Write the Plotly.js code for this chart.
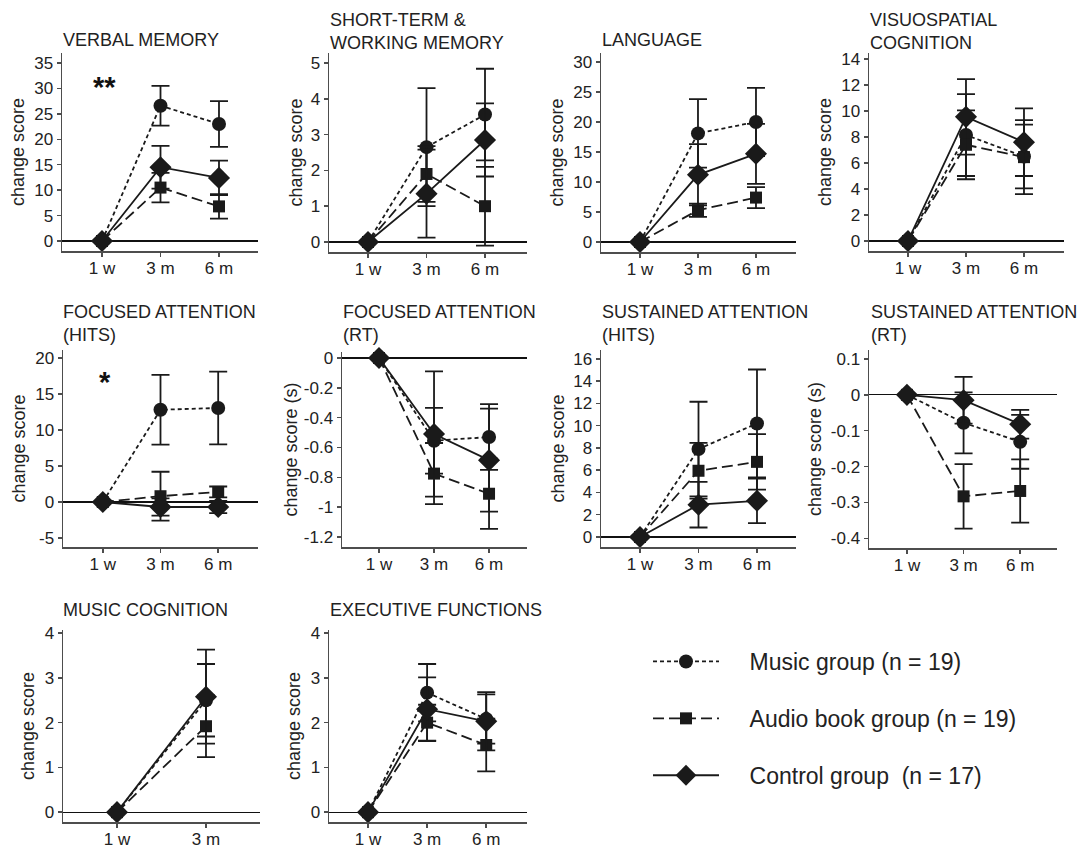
<!DOCTYPE html>
<html><head><meta charset="utf-8">
<script src="https://cdn.plot.ly/plotly-3.0.1.min.js"></script>
<style>html,body{margin:0;padding:0;background:#fff}</style>
</head><body><div id="chart" style="width:1087px;height:848px"></div>
<script>
// ---------- DATA ----------
const timepoints3 = ['1 w', '3 m', '6 m'];
const timepoints2 = ['1 w', '3 m'];
const groupNames = ['Music group (n = 19)', 'Audio book group (n = 19)', 'Control group\u00a0 (n = 17)'];

const panelTitles = [
  'VERBAL MEMORY', 'SHORT-TERM &<br>WORKING MEMORY', 'LANGUAGE', 'VISUOSPATIAL<br>COGNITION',
  'FOCUSED ATTENTION<br>(HITS)', 'FOCUSED ATTENTION<br>(RT)', 'SUSTAINED ATTENTION<br>(HITS)', 'SUSTAINED ATTENTION<br>(RT)',
  'MUSIC COGNITION', 'EXECUTIVE FUNCTIONS'
];
const yTitles = ['change score', 'change score', 'change score', 'change score',
  'change score', 'change score (s)', 'change score', 'change score (s)',
  'change score', 'change score'];

// y tick values per panel
const yTicks1 = [0, 5, 10, 15, 20, 25, 30, 35];
const yTicks2 = [0, 1, 2, 3, 4, 5];
const yTicks3 = [0, 5, 10, 15, 20, 25, 30];
const yTicks4 = [0, 2, 4, 6, 8, 10, 12, 14];
const yTicks5 = [-5, 0, 5, 10, 15, 20];
const yTicks6 = [-1.2, -1, -0.8, -0.6, -0.4, -0.2, 0];
const yTicks7 = [0, 2, 4, 6, 8, 10, 12, 14, 16];
const yTicks8 = [-0.4, -0.3, -0.2, -0.1, 0, 0.1];
const yTicks9 = [0, 1, 2, 3, 4];
const yTicks10 = [0, 1, 2, 3, 4];

// means and error (null = no bar at baseline)
const verbalMusic = [0, 26.6, 23.0],   verbalMusicErr = [null, 3.9, 4.5];
const verbalAudio = [0, 10.5, 6.8],    verbalAudioErr = [null, 2.9, 2.4];
const verbalControl = [0, 14.5, 12.4], verbalControlErr = [null, 4.2, 3.4];

const stmMusic = [0, 2.65, 3.56],   stmMusicErr = [null, 1.65, 1.28];
const stmAudio = [0, 1.9, 1.0],     stmAudioErr = [null, 0.78, 1.1];
const stmControl = [0, 1.35, 2.85], stmControlErr = [null, 1.23, 1.02];

const langMusic = [0, 18.1, 20.0],   langMusicErr = [null, 5.7, 5.7];
const langAudio = [0, 5.3, 7.4],     langAudioErr = [null, 1.1, 1.75];
const langControl = [0, 11.2, 14.7], langControlErr = [null, 5.1, 5.0];

const visuoMusic = [0, 8.15, 6.5],    visuoMusicErr = [null, 3.15, 2.45];
const visuoAudio = [0, 7.4, 6.45],    visuoAudioErr = [null, 2.65, 2.85];
const visuoControl = [0, 9.55, 7.6],  visuoControlErr = [null, 2.9, 2.6];

const faHitsMusic = [0, 12.8, 13.05], faHitsMusicErr = [null, 4.85, 5.05];
const faHitsAudio = [0, 0.8, 1.4],    faHitsAudioErr = [null, 3.4, 0.75];
const faHitsControl = [0, -0.7, -0.7], faHitsControlErr = [null, 1.2, 0.85];

const faRtMusic = [0, -0.555, -0.53],  faRtMusicErr = [null, 0.22, 0.22];
const faRtAudio = [0, -0.775, -0.91],  faRtAudioErr = [null, 0.205, 0.235];
const faRtControl = [0, -0.51, -0.685], faRtControlErr = [null, 0.42, 0.345];

const saHitsMusic = [0, 7.9, 10.2],    saHitsMusicErr = [null, 4.25, 4.85];
const saHitsAudio = [0, 5.95, 6.75],   saHitsAudioErr = [null, 2.5, 2.5];
const saHitsControl = [0, 2.9, 3.25],  saHitsControlErr = [null, 2.05, 2.0];

const saRtMusic = [0, -0.078, -0.131],   saRtMusicErr = [null, 0.085, 0.075];
const saRtAudio = [0, -0.283, -0.268],   saRtAudioErr = [null, 0.09, 0.088];
const saRtControl = [0, -0.015, -0.082], saRtControlErr = [null, 0.065, 0.04];

const musicCogMusic = [0, 2.5],   musicCogMusicErr = [null, 0.81];
const musicCogAudio = [0, 1.92],  musicCogAudioErr = [null, 0.69];
const musicCogControl = [0, 2.58], musicCogControlErr = [null, 1.05];

const execMusic = [0, 2.67, 2.08],   execMusicErr = [null, 0.64, 0.55];
const execAudio = [0, 2.0, 1.5],     execAudioErr = [null, 0.4, 0.59];
const execControl = [0, 2.3, 2.03],  execControlErr = [null, 0.71, 0.65];

// significance markers
const sigLabels = ['**', '*'];
const sigPanels = [0, 4];
const sigX = [0.05, 0.03];
const sigY = [31.3, 17.4];

// ---------- ASSEMBLY ----------
const panelData = [
  [timepoints3, yTicks1, [verbalMusic, verbalAudio, verbalControl], [verbalMusicErr, verbalAudioErr, verbalControlErr]],
  [timepoints3, yTicks2, [stmMusic, stmAudio, stmControl], [stmMusicErr, stmAudioErr, stmControlErr]],
  [timepoints3, yTicks3, [langMusic, langAudio, langControl], [langMusicErr, langAudioErr, langControlErr]],
  [timepoints3, yTicks4, [visuoMusic, visuoAudio, visuoControl], [visuoMusicErr, visuoAudioErr, visuoControlErr]],
  [timepoints3, yTicks5, [faHitsMusic, faHitsAudio, faHitsControl], [faHitsMusicErr, faHitsAudioErr, faHitsControlErr]],
  [timepoints3, yTicks6, [faRtMusic, faRtAudio, faRtControl], [faRtMusicErr, faRtAudioErr, faRtControlErr]],
  [timepoints3, yTicks7, [saHitsMusic, saHitsAudio, saHitsControl], [saHitsMusicErr, saHitsAudioErr, saHitsControlErr]],
  [timepoints3, yTicks8, [saRtMusic, saRtAudio, saRtControl], [saRtMusicErr, saRtAudioErr, saRtControlErr]],
  [timepoints2, yTicks9, [musicCogMusic, musicCogAudio, musicCogControl], [musicCogMusicErr, musicCogAudioErr, musicCogControlErr]],
  [timepoints3, yTicks10, [execMusic, execAudio, execControl], [execMusicErr, execAudioErr, execControlErr]]
];

// layout geometry (pixels) and axis ranges
const W = 1087, H = 848;
const geom = [
  {px: [62, 258],  py: [53, 251],  xr: [-0.684, 2.667], yr: [-1.97, 36.96], t: [63, 35],  so: 5},
  {px: [329, 527], py: [53, 252],  xr: [-0.667, 2.718], yr: [-0.28, 5.28],  t: [330, 15], so: 3},
  {px: [601, 796], py: [53, 252],  xr: [-0.672, 2.69],  yr: [-1.67, 31.5],  t: [602, 35], so: 5},
  {px: [869, 1064],py: [53, 251],  xr: [-0.672, 2.69],  yr: [-0.77, 14.46], t: [870, 15], so: 5},
  {px: [63, 258],  py: [350, 547], xr: [-0.69, 2.69],   yr: [-6.25, 21.1],  t: [63, 307], so: 5},
  {px: [342, 527], py: [352, 547], xr: [-0.673, 2.69],  yr: [-1.267, 0.04], t: [343, 307], so: 1},
  {px: [601, 796], py: [350, 547], xr: [-0.667, 2.667], yr: [-0.9, 16.8],   t: [602, 307], so: 4},
  {px: [869, 1057],py: [350, 548], xr: [-0.67, 2.65],   yr: [-0.427, 0.125], t: [871, 307], so: 4},
  {px: [63, 260],  py: [630, 822], xr: [-0.607, 1.607], yr: [-0.22, 4.07],  t: [63, 605], so: 5},
  {px: [329, 527], py: [630, 822], xr: [-0.66, 2.69],   yr: [-0.22, 4.07],  t: [330, 605], so: 5}
];

const FONT = 'Liberation Sans, Arial, Helvetica, sans-serif';
const INK = '#1a1a1a';
const AXC = '#4d4d4d';
const styles = [
  {symbol: 'circle', size: 14, dash: '4px,3px'},
  {symbol: 'square', size: 12, dash: '11px,5px'},
  {symbol: 'diamond', size: 17, dash: 'solid'}
];
const groupKeys = ['music', 'audio', 'control'];
const legendPad = '\u00a0\u00a0\u00a0\u00a0';

const traces = [];
const layout = {
  width: W, height: H,
  margin: {l: 0, r: 0, t: 0, b: 0},
  paper_bgcolor: '#fff', plot_bgcolor: '#fff',
  font: {family: FONT, color: '#222', size: 17},
  showlegend: true,
  legend: {
    x: 648 / W, y: 1 - 640 / H, xanchor: 'left', yanchor: 'top',
    font: {size: 23, color: '#222', family: FONT},
    itemwidth: 66, tracegroupgap: 24, traceorder: 'grouped',
    bgcolor: 'rgba(0,0,0,0)', borderwidth: 0
  },
  annotations: []
};

panelData.forEach((pd, i) => {
  const [cats, ticks, series, errs] = pd;
  const g = geom[i];
  const n = i + 1;
  const xa = 'xaxis' + (n === 1 ? '' : n);
  const ya = 'yaxis' + (n === 1 ? '' : n);
  const xr = 'x' + (n === 1 ? '' : n);
  const yr = 'y' + (n === 1 ? '' : n);
  layout[xa] = {
    domain: [g.px[0] / W, g.px[1] / W], anchor: yr, type: 'category',
    range: g.xr, showgrid: false, zeroline: false,
    showline: true, linecolor: AXC, linewidth: 1.5,
    ticks: 'outside', ticklen: 4, tickwidth: 1.5, tickcolor: AXC,
    ticklabelstandoff: -3,
    tickfont: {size: 17, color: '#222', family: FONT}, fixedrange: true
  };
  layout[ya] = {
    domain: [1 - g.py[1] / H, 1 - g.py[0] / H], anchor: xr,
    range: g.yr, showgrid: false,
    zeroline: true, zerolinecolor: '#111', zerolinewidth: 1.2,
    showline: true, linecolor: AXC, linewidth: 1.5,
    ticks: 'outside', ticklen: 4, tickwidth: 1.5, tickcolor: AXC,
    tickmode: 'array', tickvals: ticks, ticktext: ticks.map(v => String(v)),
    tickfont: {size: 17, color: '#222', family: FONT},
    title: {text: yTitles[i], standoff: g.so, font: {size: 18, color: '#222', family: FONT}},
    fixedrange: true
  };
  series.forEach((vals, k) => {
    traces.push({
      type: 'scatter', mode: 'lines+markers',
      x: cats, y: vals, xaxis: xr, yaxis: yr,
      name: legendPad + groupNames[k], legendgroup: groupKeys[k], showlegend: i === 0,
      line: {color: INK, width: 1.8, dash: styles[k].dash},
      marker: {symbol: styles[k].symbol, size: styles[k].size, color: INK},
      error_y: {type: 'data', symmetric: true, visible: true,
        array: errs[k].map(v => v === null ? NaN : v),
        color: INK, thickness: 1.8, width: 9},
      cliponaxis: false, hoverinfo: 'skip'
    });
  });
  layout.annotations.push({
    xref: 'paper', yref: 'paper', x: (g.t[0] - 2) / W, y: 1 - (g.t[1] - 7) / H,
    xanchor: 'left', yanchor: 'top', align: 'left', showarrow: false,
    text: panelTitles[i], font: {size: 18, color: '#222', family: FONT}
  });
});

sigLabels.forEach((s, j) => {
  const n = sigPanels[j] + 1;
  layout.annotations.push({
    xref: 'x' + (n === 1 ? '' : n), yref: 'y' + (n === 1 ? '' : n),
    x: sigX[j], y: sigY[j], text: s, showarrow: false,
    xanchor: 'center', yanchor: 'middle', yshift: -5,
    font: {size: 29, color: '#111', family: FONT, weight: 'bold'}
  });
});

Plotly.newPlot('chart', traces, layout, {staticPlot: true, displayModeBar: false});
</script>
</body></html>
